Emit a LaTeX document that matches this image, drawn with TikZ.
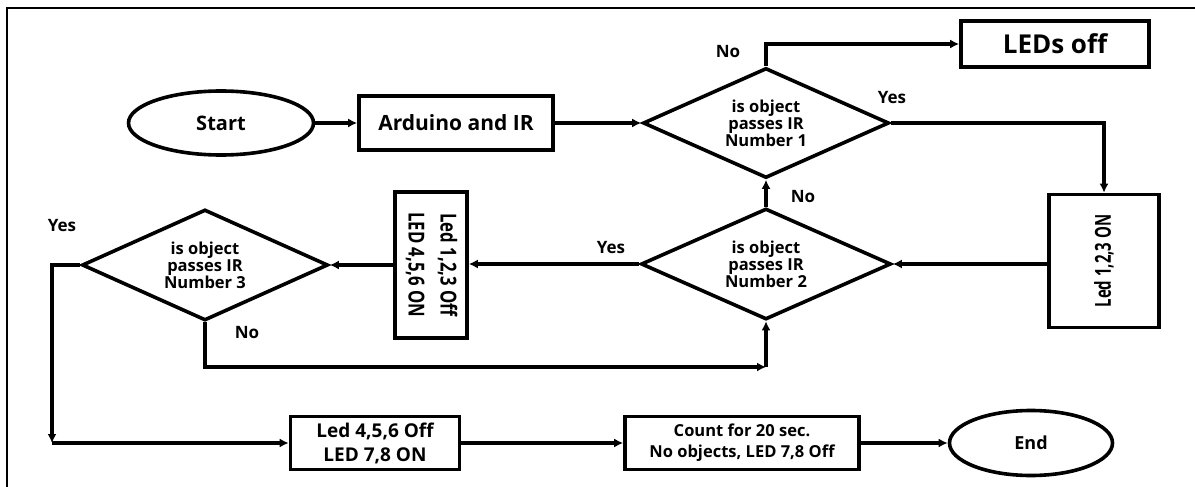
\documentclass[tikz,border=0pt]{standalone}
\usepackage{fontspec}
\setmainfont{Open Sans}
\usetikzlibrary{shapes.geometric,arrows.meta}
\newcommand\myfs[2]{\fontsize{#1}{#2}\selectfont}
\begin{document}
\begin{tikzpicture}[x=1pt,y=-1pt,
  shp/.style={draw, line width=3.6pt, inner sep=0pt, align=center, font=\bfseries},
  boxnode/.style={shp, rectangle},
  term/.style={shp, ellipse},
  dec/.style={shp, diamond, shape aspect=2.2, font=\bfseries\myfs{16.5}{17}},
  conn/.style={line width=3.4pt, -{Latex[length=9pt,width=9pt]}},
  lbl/.style={font=\bfseries\myfs{17}{20}, inner sep=0pt}]
\useasboundingbox (0,0) rectangle (1195,487);
\draw[line width=2.2pt] (7,487) -- (7,8) -- (1195,8);

\node[term, minimum width=185pt, minimum height=64pt, font=\bfseries\myfs{20}{24}] (start) at (221,123) {Start};
\node[boxnode, minimum width=194pt, minimum height=54pt, font=\bfseries\myfs{21}{24}] (ard) at (456,123) {Arduino and IR};
\node[dec, minimum width=246pt, minimum height=110pt] (d1) at (766,123) {is object\\passes IR\\Number 1};
\node[boxnode, minimum width=188pt, minimum height=46pt, font=\bfseries\myfs{26}{30}] (ledsoff) at (1055,44) {LEDs off};
\node[boxnode, minimum width=110pt, minimum height=133pt, font=\bfseries\myfs{22}{26}] (on123) at (1104,261) {\rotatebox{90}{\scalebox{0.68}[1]{Led 1,2,3 ON}}};
\node[dec, minimum width=250pt, minimum height=111pt] (d2) at (766,264) {is object\\passes IR\\Number 2};
\node[boxnode, minimum width=72pt, minimum height=146pt, font=\bfseries\myfs{22}{32}] (off123) at (431,265) {\rotatebox{-90}{\scalebox{0.76}[1]{\begin{tabular}{@{}c@{}}Led 1,2,3 Off\\LED 4,5,6 ON\end{tabular}}}};
\node[dec, minimum width=246pt, minimum height=111pt] (d3) at (205,265) {is object\\passes IR\\Number 3};
\node[boxnode, minimum width=169pt, minimum height=53pt, font=\bfseries\myfs{19}{24}] (b4) at (375,443) {Led 4,5,6 Off\\LED 7,8 ON};
\node[boxnode, minimum width=234pt, minimum height=53pt, font=\bfseries\myfs{16.5}{21}] (b5) at (742,443) {Count for 20 sec.\\No objects, LED 7,8 Off};
\node[term, minimum width=163pt, minimum height=65pt, font=\bfseries\myfs{18}{22}] (end) at (1031,443) {End};

\coordinate (yc) at (52,443);
\coordinate (nc) at (766,367);

\draw[conn] (start) -- (ard);
\draw[conn] (ard) -- (d1);
\draw[conn] (d1.north) |- (ledsoff.west);
\draw[conn] (d1.east) -| (on123.north);
\draw[conn] (on123.west |- d2.east) -- (d2.east);
\draw[conn] (d2.north) -- (d1.south);
\draw[conn] (d2.west) -- (d2.west -| off123.east);
\draw[conn] (off123.west |- d3.east) -- (d3.east);
\draw[conn] (d3.west) -| (yc);
\draw[conn] (yc) -- (b4.west);
\draw[conn] (d3.south) |- (nc);
\draw[conn] (nc) -- (d2.south);
\draw[conn] (b4) -- (b5);
\draw[conn] (b5) -- (end);

\node[lbl] (l1) at (728,52) {No};
\node[lbl] (l2) at (892,98) {Yes};
\node[lbl] (l3) at (803,197) {No};
\node[lbl] (l4) at (611,248) {Yes};
\node[lbl] (l5) at (62,226) {Yes};
\node[lbl] (l6) at (247,333) {No};
\end{tikzpicture}
\end{document}
